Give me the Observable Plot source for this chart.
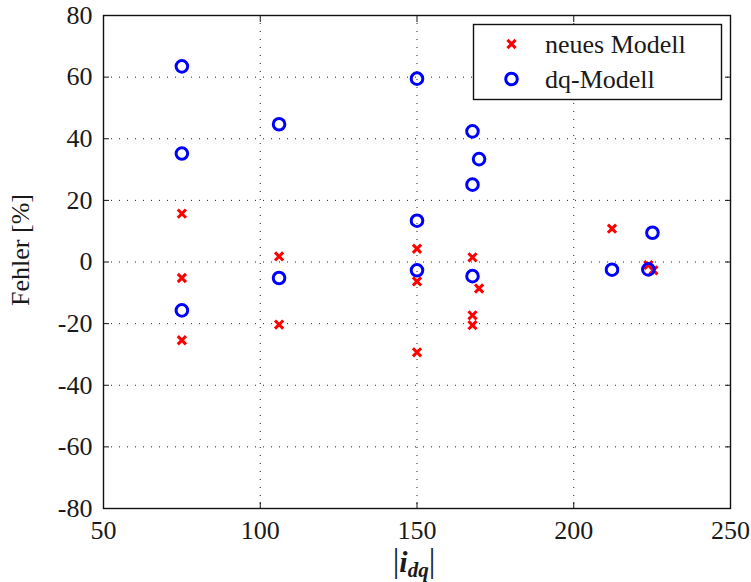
<!DOCTYPE html>
<html>
<head>
<meta charset="utf-8">
<script src="https://cdn.jsdelivr.net/npm/d3@7"></script>
<script src="https://cdn.jsdelivr.net/npm/@observablehq/plot@0.6"></script>
<style>
  html, body { margin: 0; padding: 0; background: #fff; }
  #chart { width: 751px; height: 582px; }
</style>
</head>
<body>
<div id="chart"></div>
<script>
// Error of the new model and the dq model over the current magnitude |i_dq|
const neuX = [75, 75, 75, 106, 106, 150, 150, 150, 167.7, 169.8, 167.7, 167.7, 212.2, 223.8, 225.4];
const neuY = [15.7, -5.2, -25.4, 1.8, -20.3, 4.3, -6.3, -29.3, 1.5, -8.6, -17.3, -20.5, 10.8, -1.0, -2.7];
const dqX  = [75, 75, 75, 106, 106, 150, 150, 150, 167.7, 169.8, 167.7, 167.7, 212.2, 223.8, 225.1];
const dqY  = [63.5, 35.2, -15.7, 44.7, -5.2, 59.5, 13.4, -2.7, 42.4, 33.4, 25.1, -4.6, -2.5, -2.4, 9.5];

const xTicks = [50, 100, 150, 200, 250];
const yTicks = [-80, -60, -40, -20, 0, 20, 40, 60, 80];
const seriesNames = ["neues Modell", "dq-Modell"];

const neu = neuX.map((x, i) => ({x, y: neuY[i]}));
const dq = dqX.map((x, i) => ({x, y: dqY[i]}));

const FONT = "'Liberation Serif', 'Times New Roman', serif";
const INK = "#1a1a1a";
const RED = "#ff0000", BLUE = "#0000ff";
const crossR = 3.8, circleR = 5.8;

const inner = yTicks.slice(1, -1);
const innerX = xTicks.slice(1, -1);
const plain = d => String(d); // hyphen-minus, as in the original figure

const plot = Plot.plot({
  width: 751,
  height: 582,
  marginLeft: 103,
  marginRight: 21,
  marginTop: 15,
  marginBottom: 74,
  style: {fontFamily: FONT, fontSize: "26px", color: INK, background: "white"},
  x: {domain: [50, 250]},
  y: {domain: [-80, 80]},
  marks: [
    Plot.gridX(innerX, {stroke: "#222", strokeOpacity: 1, strokeWidth: 1, strokeDasharray: "1,7"}),
    Plot.gridY(inner, {stroke: "#222", strokeOpacity: 1, strokeWidth: 1, strokeDasharray: "1,7"}),
    // inward tick marks on all four sides
    Plot.axisX(xTicks, {anchor: "bottom", tickSize: 6, dy: -6, text: null, label: null, stroke: "#111"}),
    Plot.axisX(xTicks, {anchor: "top", tickSize: 6, dy: 6, text: null, label: null, stroke: "#111"}),
    Plot.axisY(yTicks, {anchor: "left", tickSize: 6, dx: 6, text: null, label: null, stroke: "#111"}),
    Plot.axisY(yTicks, {anchor: "right", tickSize: 6, dx: -6, text: null, label: null, stroke: "#111"}),
    // tick labels
    Plot.axisX(xTicks, {anchor: "bottom", tickSize: 0, tickPadding: 12, label: null, fontSize: 26, tickFormat: plain}),
    Plot.axisY(yTicks, {anchor: "left", tickSize: 0, tickPadding: 11, label: null, fontSize: 26, tickFormat: plain}),
    Plot.frame({stroke: "#111", strokeWidth: 1.4}),
    Plot.dot(neu, {x: "x", y: "y", symbol: "times", r: crossR, stroke: RED, strokeWidth: 3}),
    Plot.dot(dq, {x: "x", y: "y", symbol: "circle", r: circleR, stroke: BLUE, fill: "none", strokeWidth: 3})
  ]
});

document.getElementById("chart").append(plot);

const svg = d3.select(plot);

// y-axis title
svg.append("text")
  .attr("transform", "translate(29,250) rotate(-90)")
  .attr("text-anchor", "middle")
  .attr("font-family", FONT)
  .attr("font-size", 26)
  .attr("fill", INK)
  .text("Fehler [%]");

// x-axis title |i_dq|
const xt = svg.append("text")
  .attr("x", 414)
  .attr("y", 572)
  .attr("text-anchor", "middle")
  .attr("font-family", FONT)
  .attr("fill", INK);
xt.append("tspan").attr("font-size", 33).text("|");
xt.append("tspan").attr("font-size", 30).attr("font-weight", "bold").attr("font-style", "italic").text("i");
xt.append("tspan").attr("font-size", 21).attr("font-weight", "bold").attr("font-style", "italic").attr("dy", 5).text("dq");
xt.append("tspan").attr("font-size", 33).attr("dy", -5).text("|");

// legend box
const lg = svg.append("g").attr("text-anchor", "start");
lg.append("rect")
  .attr("x", 473.5).attr("y", 24.5).attr("width", 248).attr("height", 75)
  .attr("fill", "white").attr("stroke", "#111").attr("stroke-width", 1.4);
const entries = [
  {name: seriesNames[0], y: 44, sym: d3.symbolTimes, r: crossR, color: RED},
  {name: seriesNames[1], y: 79, sym: d3.symbolCircle, r: circleR, color: BLUE}
];
for (const e of entries) {
  lg.append("path")
    .attr("transform", `translate(511.5,${e.y})`)
    .attr("d", d3.symbol(e.sym, e.r * e.r * Math.PI)())
    .attr("fill", "none").attr("stroke", e.color).attr("stroke-width", 3);
  lg.append("text")
    .attr("x", 545).attr("y", e.y + 9)
    .attr("text-anchor", "start")
    .attr("font-family", FONT).attr("font-size", 26).attr("fill", INK)
    .text(e.name);
}
</script>
</body>
</html>
